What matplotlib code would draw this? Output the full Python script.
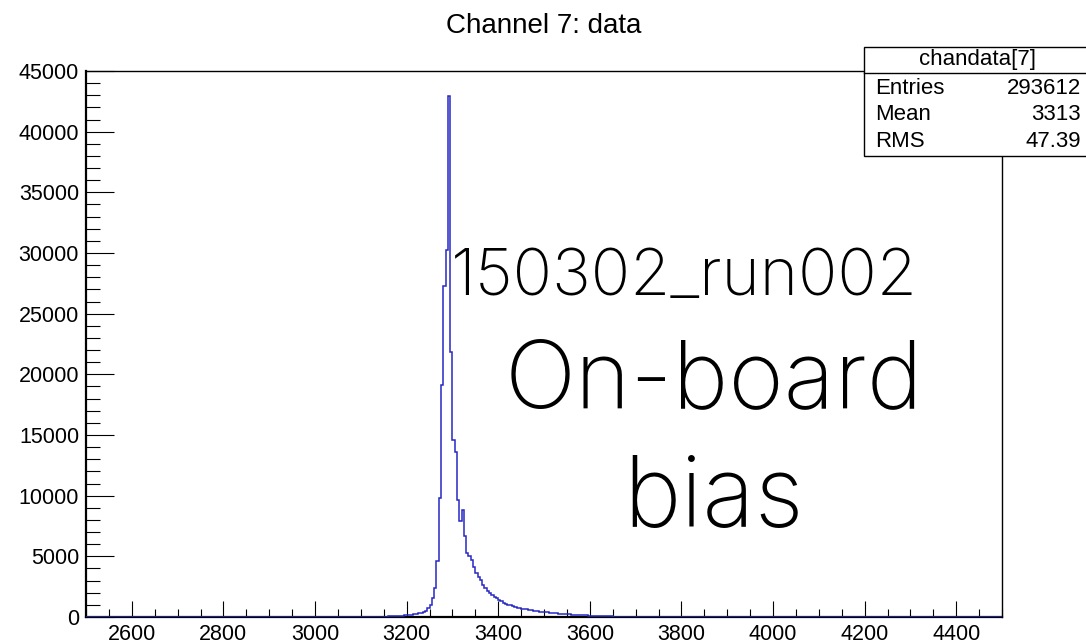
import numpy as np
import matplotlib.pyplot as plt
from matplotlib.ticker import MultipleLocator, FixedLocator
from matplotlib.patches import Rectangle
from matplotlib.lines import Line2D

# histogram: 5-unit bins, non-empty part starts at 3100
bin_width = 5
first_edge = 3100
counts = [
    2, 3, 4, 5, 7, 9, 12, 16, 20, 25,
    31, 38, 46, 55, 66, 78, 90, 105, 120, 140,
    160, 180, 205, 240, 280, 320, 370, 440, 520, 720,
    990, 1540, 2370, 4650, 9790, 19140, 27250, 30270, 42950, 21800,
    14600, 13590, 9650, 7920, 8830, 6680, 5250, 5030, 4700, 4100,
    3650, 3270, 3050, 2640, 2370, 2150, 1990, 1820, 1680, 1540,
    1400, 1290, 1190, 1100, 1020, 950, 890, 830, 780, 740,
    700, 660, 620, 585, 550, 520, 490, 465, 440, 420,
    400, 375, 355, 335, 315, 300, 285, 270, 255, 240,
    225, 210, 195, 180, 168, 155, 145, 135, 125, 115,
    105, 97, 90, 82, 75, 67, 60, 55, 50, 45,
    40, 35, 31, 27, 23, 20, 17, 14, 12, 10, 8,
]

x_range = (2500, 4500)
y_range = (0, 45000)
x_tick_labels = [2600, 2800, 3000, 3200, 3400, 3600, 3800, 4000, 4200, 4400]
y_tick_labels = [0, 5000, 10000, 15000, 20000, 25000, 30000, 35000, 40000, 45000]

stat_title = "chandata[7]"
stat_names = ["Entries", "Mean", "RMS"]
stat_values = ["293612", "3313", "47.39"]

edges = np.arange(x_range[0], x_range[1] + bin_width, bin_width)
full = np.zeros(len(edges) - 1)
i0 = (first_edge - x_range[0]) // bin_width
full[i0:i0 + len(counts)] = counts

plt.rcParams['font.family'] = ['Liberation Sans', 'DejaVu Sans']

W, H = 1086, 643
fig = plt.figure(figsize=(W / 100, H / 100), dpi=100)
ax = fig.add_axes([86 / W, 1 - 617 / H, (1002 - 86) / W, (617 - 71) / H])

ax.stairs(full, edges, color='#2727c4', lw=1.1, zorder=3)

ax.set_xlim(*x_range)
ax.set_ylim(*y_range)
ax.xaxis.set_major_locator(FixedLocator(x_tick_labels))
ax.xaxis.set_minor_locator(MultipleLocator(50))
ax.yaxis.set_major_locator(FixedLocator(y_tick_labels))
ax.yaxis.set_minor_locator(MultipleLocator(1000))
ax.tick_params(axis='both', which='both', direction='in', top=False, right=False,
               width=0.8, color='black', labelsize=15.5)
ax.tick_params(axis='x', which='major', length=11.5, pad=5)
ax.tick_params(axis='x', which='minor', length=5.5)
ax.tick_params(axis='y', which='major', length=20, pad=5)
ax.tick_params(axis='y', which='minor', length=10)
for s in ['left', 'bottom']:
    ax.spines[s].set_linewidth(1.6)
for s in ['top', 'right']:
    ax.spines[s].set_linewidth(1.0)

fig.text(544 / W, 1 - 26 / H, "Channel 7: data", ha='center', va='center', fontsize=20)

# stats box
bx0, by0, bx1, by1 = 864, 47, 1090, 156
fig.patches.append(Rectangle((bx0 / W, 1 - by1 / H), (bx1 - bx0) / W, (by1 - by0) / H,
                             transform=fig.transFigure, facecolor='white',
                             edgecolor='black', lw=1.0, zorder=5))
fig.lines.append(Line2D([bx0 / W, bx1 / W], [1 - 72.5 / H, 1 - 72.5 / H],
                        transform=fig.transFigure, color='black', lw=1.0, zorder=6))
fig.text(978 / W, 1 - 60 / H, stat_title, ha='center', va='center', fontsize=16, zorder=7)
for k, (n, v) in enumerate(zip(stat_names, stat_values)):
    yy = 1 - (89 + k * 26) / H
    fig.text(875 / W, yy, n, ha='left', va='center', fontsize=16, zorder=7)
    fig.text(1081 / W, yy, v, ha='right', va='center', fontsize=16, zorder=7)

# annotations
big = dict(family=['Inter', 'Roboto', 'DejaVu Sans'], fontweight='light', color='black',
           ha='center', va='center')
fig.text(684 / W, 1 - 278 / H, "150302_run002", fontsize=47, **big)
fig.text(714 / W, 1 - 383 / H, "On-board", fontsize=68, **big)
fig.text(714 / W, 1 - 500 / H, "bias", fontsize=70, **big)

fig.savefig("out.png", dpi=100)
